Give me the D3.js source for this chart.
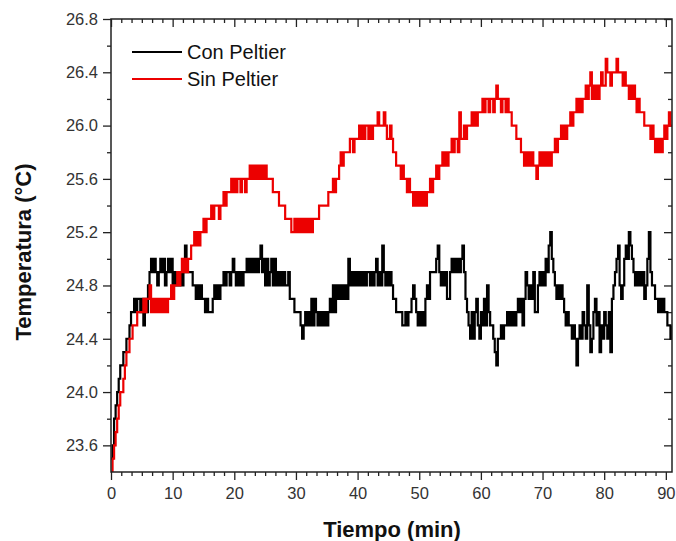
<!DOCTYPE html>
<html>
<head>
<meta charset="utf-8">
<script src="https://cdn.jsdelivr.net/npm/d3@7"></script>
<style>
  html, body { margin: 0; padding: 0; background: #fff; }
  svg { display: block; }
</style>
</head>
<body>
<script>
// ---- Data (one sample every 0.25 min) ----
const sampleStepMin = 0.25;
const seriesNames = ["Con Peltier", "Sin Peltier"];
const seriesColors = ["#000000", "#ec0000"];

const conPeltier = [
23.5,23.6,23.8,23.9, 24.0,24.1,24.2,24.2, 24.3,24.3,24.4,24.4, 24.5,24.6,24.6,24.7,
24.6,24.7,24.7,24.6, 24.7,24.5,24.7,24.6, 24.8,24.9,25.0,24.9, 25.0,24.9,24.8,24.9,
25.0,24.9,25.0,24.8, 24.9,25.0,24.9,25.0, 24.8,24.9,24.8,24.9, 24.8,24.9,24.8,24.9,
25.1,24.9,24.9,24.9, 24.9,24.8,24.8,24.7, 24.8,24.7,24.8,24.7, 24.7,24.6,24.7,24.6,
24.6,24.6,24.7,24.8, 24.7,24.8,24.7,24.8, 24.8,24.9,24.8,24.9, 24.9,24.8,24.9,25.0,
24.9,24.8,24.9,24.8, 24.9,24.8,24.9,24.9, 25.0,24.9,25.0,24.9, 25.0,24.9,25.0,24.9,
25.0,25.1,24.9,25.0, 24.8,25.0,24.8,24.9, 25.0,24.8,25.0,24.8, 24.9,24.8,24.9,24.8,
24.9,24.8,24.8,24.9, 24.7,24.7,24.7,24.6, 24.6,24.6,24.6,24.5, 24.4,24.5,24.6,24.5,
24.6,24.5,24.7,24.5, 24.7,24.6,24.5,24.6, 24.5,24.6,24.5,24.6, 24.5,24.6,24.7,24.6,
24.8,24.6,24.8,24.7, 24.8,24.7,24.8,24.7, 24.8,24.7,25.0,24.8, 24.9,24.8,24.9,24.8,
24.9,24.8,24.9,24.8, 24.9,24.8,24.9,24.9, 24.8,24.9,24.8,24.9, 25.0,24.8,24.9,24.8,
25.1,24.9,24.8,24.9, 24.8,24.9,24.8,24.7, 24.7,24.6,24.6,24.6, 24.6,24.5,24.5,24.6,
24.5,24.6,24.6,24.7, 24.8,24.7,24.6,24.5, 24.6,24.5,24.6,24.5, 24.7,24.8,24.7,24.9,
24.9,24.9,24.9,25.0, 25.1,24.9,24.8,24.9, 24.8,24.9,24.7,24.7, 24.9,25.0,24.9,25.0,
24.9,25.0,24.9,25.0, 25.1,24.9,24.7,24.6, 24.5,24.4,24.6,24.4, 24.6,24.7,24.5,24.4,
24.6,24.5,24.7,24.5, 24.8,24.6,24.5,24.5, 24.4,24.3,24.2,24.4, 24.4,24.5,24.4,24.5,
24.5,24.6,24.5,24.6, 24.5,24.6,24.5,24.6, 24.7,24.6,24.7,24.5, 24.7,24.9,24.8,24.7,
24.8,24.7,24.9,24.6, 24.6,24.8,24.9,24.8, 24.9,24.8,25.0,24.9, 25.1,25.2,25.0,24.9,
24.8,24.7,24.8,24.7, 24.8,24.7,24.6,24.5, 24.6,24.5,24.5,24.4, 24.5,24.4,24.2,24.4,
24.5,24.4,24.6,24.5, 24.4,24.8,24.5,24.3, 24.4,24.6,24.7,24.5, 24.6,24.3,24.5,24.4,
24.6,24.5,24.4,24.6, 24.3,24.7,24.8,24.9, 25.0,25.1,24.8,24.7, 24.8,25.0,25.1,25.0,
25.2,25.1,25.0,24.9, 24.8,24.9,24.8,24.9, 24.8,24.9,24.7,24.8, 25.0,25.2,24.9,24.8,
24.8,24.7,24.7,24.6, 24.7,24.6,24.7,24.6, 24.6,24.5,24.5,24.4, 24.5
];

const sinPeltier = [
23.4,23.5,23.6,23.7, 23.8,23.9,24.0,24.0, 24.1,24.2,24.3,24.3, 24.4,24.4,24.5,24.5,
24.5,24.6,24.6,24.6, 24.6,24.7,24.6,24.7, 24.7,24.8,24.6,24.7, 24.6,24.7,24.6,24.7,
24.6,24.7,24.6,24.7, 24.6,24.7,24.7,24.8, 24.7,24.8,24.8,24.9, 24.8,24.9,25.0,24.9,
25.0,24.9,25.0,25.0, 25.1,25.1,25.2,25.1, 25.2,25.1,25.2,25.2, 25.3,25.2,25.3,25.3,
25.3,25.4,25.3,25.4, 25.4,25.4,25.3,25.4, 25.4,25.5,25.4,25.5, 25.5,25.5,25.6,25.5,
25.6,25.5,25.6,25.6, 25.5,25.6,25.6,25.5, 25.6,25.6,25.7,25.6, 25.7,25.6,25.7,25.6,
25.7,25.6,25.7,25.6, 25.7,25.6,25.6,25.6, 25.6,25.5,25.5,25.5, 25.5,25.4,25.4,25.4,
25.4,25.3,25.3,25.3, 25.3,25.2,25.2,25.3, 25.2,25.3,25.2,25.3, 25.2,25.3,25.2,25.3,
25.2,25.3,25.2,25.3, 25.3,25.3,25.3,25.4, 25.4,25.4,25.4,25.4, 25.4,25.5,25.5,25.5,
25.6,25.5,25.6,25.6, 25.7,25.8,25.7,25.8, 25.8,25.8,25.8,25.9, 25.9,25.8,25.9,25.9,
25.9,26.0,25.9,26.0, 25.9,26.0,26.0,25.9, 26.0,25.9,26.0,26.0, 26.0,26.1,26.0,26.0,
26.0,26.1,26.0,25.9, 25.9,26.0,25.9,25.8, 25.8,25.7,25.7,25.7, 25.6,25.7,25.6,25.6,
25.5,25.6,25.5,25.5, 25.4,25.5,25.4,25.5, 25.4,25.5,25.4,25.5, 25.4,25.5,25.5,25.6,
25.5,25.6,25.6,25.7, 25.6,25.7,25.7,25.8, 25.7,25.8,25.7,25.8, 25.8,25.9,25.8,25.9,
25.9,25.8,26.1,25.9, 25.9,26.0,25.9,26.0, 26.0,26.0,26.1,26.0, 26.1,26.0,26.1,26.1,
26.1,26.2,26.1,26.2, 26.2,26.1,26.2,26.2, 26.1,26.2,26.3,26.2, 26.2,26.1,26.2,26.2,
26.1,26.2,26.1,26.1, 26.0,26.0,26.0,25.9, 25.9,25.9,25.8,25.8, 25.7,25.8,25.7,25.8,
25.7,25.8,25.7,25.7, 25.6,25.7,25.8,25.7, 25.8,25.7,25.8,25.7, 25.8,25.7,25.8,25.8,
25.9,25.8,25.9,25.9, 26.0,25.9,26.0,25.9, 26.0,26.0,26.1,26.0, 26.1,26.1,26.2,26.1,
26.2,26.1,26.2,26.2, 26.3,26.2,26.3,26.4, 26.2,26.3,26.2,26.3, 26.2,26.3,26.4,26.3,
26.3,26.5,26.4,26.4, 26.3,26.4,26.4,26.4, 26.5,26.4,26.4,26.4, 26.3,26.4,26.3,26.3,
26.2,26.3,26.2,26.3, 26.2,26.1,26.2,26.1, 26.1,26.1,26.0,26.0, 26.0,26.0,25.9,26.0,
25.9,25.8,25.9,25.8, 25.9,25.8,25.9,26.0, 25.9,26.0,26.1,26.0, 26.0
];

const xTickLabels = [0, 10, 20, 30, 40, 50, 60, 70, 80, 90];
const yTickLabels = [23.6, 24.0, 24.4, 24.8, 25.2, 25.6, 26.0, 26.4, 26.8];
const xDomain = [0, 91];
const yDomain = [23.4, 26.8];
const xTitle = "Tiempo (min)";
const yTitle = "Temperatura (°C)";

// ---- Layout ----
const W = 676, H = 541;
const L = 111, R = 672, T = 19, B = 472;
const axisColor = "#222";
const labelColor = "#333";

const svg = d3.select("body").append("svg").attr("width", W).attr("height", H);

const x = d3.scaleLinear().domain(xDomain).range([L, R]);
const y = d3.scaleLinear().domain(yDomain).range([B, T]);

// minor tick positions (5 minor ticks between majors on x, 1 on y)
const xMinor = d3.range(0, xDomain[1] + 1e-6, 10 / 6).filter(v => Math.abs(v / 10 - Math.round(v / 10)) > 1e-6);
const yMinor = d3.range(23.8, 26.7, 0.4);

function styleAxis(g) {
  g.select(".domain").remove();
  g.selectAll("line").attr("stroke", axisColor).attr("stroke-width", 1.3);
  g.selectAll("text").attr("fill", labelColor)
    .style("font-family", "'Liberation Sans', Arial, sans-serif")
    .style("font-size", "16.5px");
}

// Bottom axis (ticks outward)
svg.append("g").attr("transform", `translate(0,${B})`)
  .call(d3.axisBottom(x).tickValues(xTickLabels).tickSize(8).tickPadding(7).tickFormat(d3.format("d")))
  .call(styleAxis);
svg.append("g").attr("transform", `translate(0,${B})`)
  .call(d3.axisBottom(x).tickValues(xMinor).tickSize(4).tickFormat(""))
  .call(styleAxis);
// Top axis (ticks pointing down)
svg.append("g").attr("transform", `translate(0,${T})`)
  .call(d3.axisTop(x).tickValues(xTickLabels).tickSize(-8).tickFormat(""))
  .call(styleAxis);
svg.append("g").attr("transform", `translate(0,${T})`)
  .call(d3.axisTop(x).tickValues(xMinor).tickSize(-4).tickFormat(""))
  .call(styleAxis);
// Left axis (ticks outward)
svg.append("g").attr("transform", `translate(${L},0)`)
  .call(d3.axisLeft(y).tickValues(yTickLabels).tickSize(8).tickPadding(5).tickFormat(d3.format(".1f")))
  .call(styleAxis);
svg.append("g").attr("transform", `translate(${L},0)`)
  .call(d3.axisLeft(y).tickValues(yMinor).tickSize(4).tickFormat(""))
  .call(styleAxis);
// Right axis (ticks pointing left)
svg.append("g").attr("transform", `translate(${R},0)`)
  .call(d3.axisRight(y).tickValues(yTickLabels).tickSize(-8).tickFormat(""))
  .call(styleAxis);
svg.append("g").attr("transform", `translate(${R},0)`)
  .call(d3.axisRight(y).tickValues(yMinor).tickSize(-4).tickFormat(""))
  .call(styleAxis);

// Clip
svg.append("clipPath").attr("id", "plotclip")
  .append("rect").attr("x", L).attr("y", T - 2).attr("width", R - L).attr("height", B - T + 2);

const line = d3.line()
  .x((d, i) => x(i * sampleStepMin))
  .y(d => y(d))
  .curve(d3.curveStepAfter);

const plot = svg.append("g").attr("clip-path", "url(#plotclip)");
[conPeltier, sinPeltier].forEach((s, k) => {
  plot.append("path").datum(s)
    .attr("d", line)
    .attr("fill", "none")
    .attr("stroke", seriesColors[k])
    .attr("stroke-width", 2.2)
    .attr("stroke-linejoin", "miter");
});

// Frame
svg.append("rect").attr("x", L).attr("y", T).attr("width", R - L).attr("height", B - T)
  .attr("fill", "none").attr("stroke", axisColor).attr("stroke-width", 1.5);

// Legend
const legend = svg.append("g");
seriesNames.forEach((name, k) => {
  const ly = 52 + k * 27;
  legend.append("line").attr("x1", 132).attr("x2", 182).attr("y1", ly).attr("y2", ly)
    .attr("stroke", seriesColors[k]).attr("stroke-width", 2);
  legend.append("text").attr("x", 187).attr("y", ly + 7)
    .attr("fill", "#111")
    .style("font-family", "'Liberation Sans', Arial, sans-serif")
    .style("font-size", "20px")
    .text(name);
});

// Axis titles
svg.append("text")
  .attr("x", (L + R) / 2 + 0.5).attr("y", 537)
  .attr("text-anchor", "middle")
  .attr("fill", "#111")
  .style("font-family", "'Liberation Sans', Arial, sans-serif")
  .style("font-size", "22px").style("font-weight", "bold")
  .text(xTitle);

svg.append("text")
  .attr("transform", `translate(31,252) rotate(-90)`)
  .attr("text-anchor", "middle")
  .attr("fill", "#111")
  .style("font-family", "'Liberation Sans', Arial, sans-serif")
  .style("font-size", "22px").style("font-weight", "bold")
  .text(yTitle);
</script>
</body>
</html>
